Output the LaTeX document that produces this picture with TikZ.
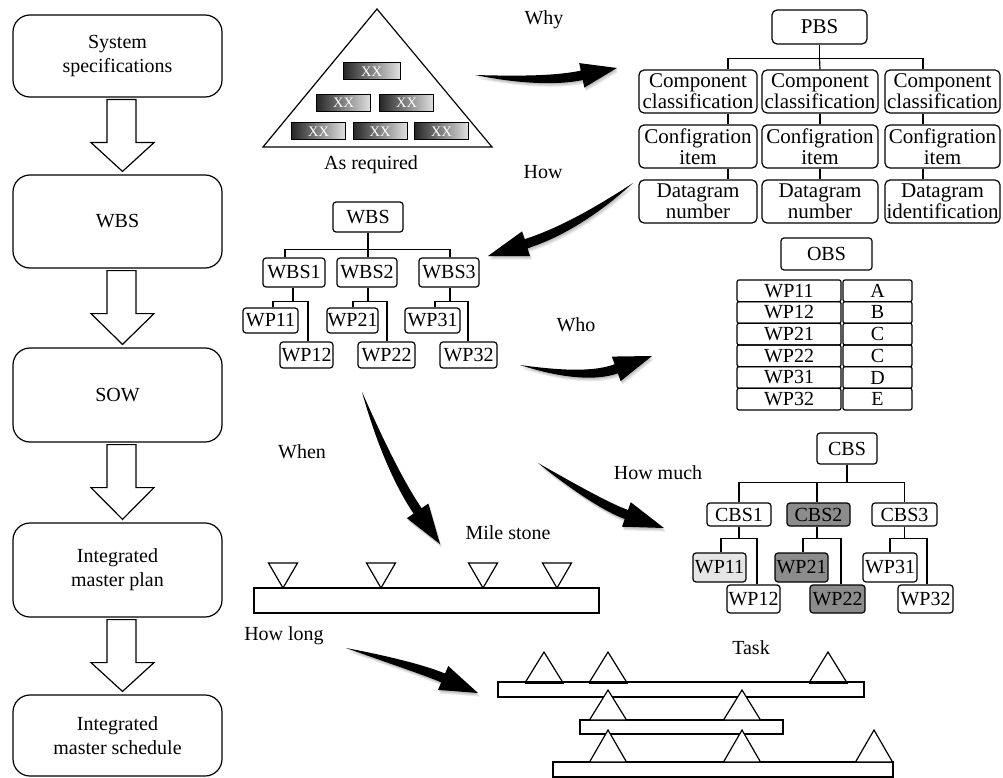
\documentclass[tikz,border=0pt]{standalone}
\usepackage{fontspec}
\setmainfont{Liberation Serif}
\usetikzlibrary{calc}

% thick tapered curved arrow: #1 prefix, #2 tail, #3 control, #4 tip, #5 head length, #6 head half width
\newcommand\bentarrow[6]{%
  \coordinate (#1t) at #2;
  \coordinate (#1c) at #3;
  \coordinate (#1p) at #4;
  \coordinate (#1b) at ($(#1p)!#5!(#1c)$);
  \coordinate (#1k1) at ($(#1t)!0.667!(#1c)$);
  \coordinate (#1k2) at ($(#1b)!0.667!(#1c)$);
  \coordinate (#1h1) at ($(#1b)!#6!90:(#1p)$);
  \coordinate (#1h2) at ($(#1b)!#6!-90:(#1p)$);
  \coordinate (#1s1) at ($(#1b)!4.8pt!90:(#1p)$);
  \coordinate (#1s2) at ($(#1b)!4.8pt!-90:(#1p)$);
  \coordinate (#1m1) at ($(#1k2)!4.8pt!90:(#1b)$);
  \coordinate (#1m2) at ($(#1k2)!4.8pt!-90:(#1b)$);
  \coordinate (#1n1) at ($(#1k1)!4pt!90:(#1k2)$);
  \coordinate (#1n2) at ($(#1k1)!4pt!-90:(#1k2)$);
  \foreach \dx/\dy in {0.6/-1.2,1.2/-2.4,1.8/-3.6}{%
    \fill[black,opacity=0.09,transform canvas={xshift=\dx pt,yshift=\dy pt}]
      (#1t) .. controls (#1n1) and (#1m1) .. (#1s1) -- (#1h1) -- (#1p) -- (#1h2) -- (#1s2)
      .. controls (#1m2) and (#1n2) .. (#1t) -- cycle;}
  \fill (#1t) .. controls (#1n1) and (#1m1) .. (#1s1) -- (#1h1) -- (#1p) -- (#1h2) -- (#1s2)
      .. controls (#1m2) and (#1n2) .. (#1t) -- cycle;
}

% hollow block arrow between two stacked boxes
\newcommand\blockdown[2]{%
  \draw[blk] ($(#1.south)+(-10.5,2)$) -- ($(#1.south)+(-10.5,45)$) -- ($(#1.south)+(-26.5,45)$)
    -- ($(#2.north)+(5,-3)$) -- ($(#1.south)+(36.5,45)$) -- ($(#1.south)+(18.5,45)$)
    -- ($(#1.south)+(18.5,2)$) -- cycle;}

\begin{document}
\begin{tikzpicture}[x=1pt,y=-1pt,
  lbox/.style={draw,line width=1.2pt,rounded corners=17pt,minimum width=209pt,align=center,
    inner sep=0pt,font=\fontsize{20}{24}\selectfont},
  pbox/.style={draw,line width=1.2pt,rounded corners=5pt,align=center,inner sep=0pt,
    font=\fontsize{21}{21}\selectfont},
  tbox/.style={draw,line width=1.2pt,rounded corners=3pt,inner sep=0pt,minimum height=26pt,
    font=\fontsize{20}{20}\selectfont},
  cell/.style={draw,line width=1.2pt,rounded corners=2pt,inner sep=0pt,minimum height=21.7pt,
    font=\fontsize{20}{20}\selectfont},
  xxbox/.style={draw,line width=1pt,left color=black!85,right color=black!12,minimum width=54pt,
    minimum height=17pt,inner sep=0pt,text=white,font=\fontsize{14.5}{14.5}\selectfont},
  lbl/.style={font=\fontsize{20}{20}\selectfont,inner sep=0pt},
  blk/.style={draw,line width=1.2pt,fill=white,line join=miter},
  tree/.style={line width=1.2pt},
  outl/.style={line width=1.2pt,line join=miter}]

\useasboundingbox (0,0) rectangle (1003,778);

% ---------- process column ----------
\node[lbox,minimum height=82pt] (s1) at (117.5,56) {System\\specifications};
\node[lbox,minimum height=93pt] (s2) at (117.5,221.5) {WBS};
\node[lbox,minimum height=94pt] (s3) at (117.5,395) {SOW};
\node[lbox,minimum height=94pt] (s4) at (117.5,570) {Integrated\\master plan};
\node[lbox,minimum height=81pt] (s5) at (117.5,735.5) {Integrated\\master schedule};
\blockdown{s1}{s2}
\blockdown{s2}{s3}
\blockdown{s3}{s4}
\blockdown{s4}{s5}

% ---------- requirement pyramid ----------
\draw[outl] (263,147) -- (377,9) -- (492,147) -- cycle;
\node[xxbox,minimum width=57pt] (x1) at (371.5,71.5) {XX};
\node[xxbox] (x2) at (343.5,103) {XX};
\node[xxbox] (x3) at (406.5,103) {XX};
\node[xxbox] (x4) at (318.5,131.5) {XX};
\node[xxbox] (x5) at (380,131.5) {XX};
\node[xxbox] (x6) at (441.5,131.5) {XX};
\node[lbl] (asreq) at (371,165) {As required};

% ---------- PBS ----------
\node[pbox,minimum width=95pt,minimum height=34pt] (pbs) at (819.5,27) {PBS};
\node[pbox,minimum width=118pt,minimum height=43pt] (c1) at (698,91.5) {Component\\classification};
\node[pbox,minimum width=116pt,minimum height=43pt] (c2) at (820,91.5) {Component\\classification};
\node[pbox,minimum width=115pt,minimum height=43pt] (c3) at (942.5,91.5) {Component\\classification};
\node[pbox,minimum width=118pt,minimum height=43pt] (f1) at (698,146.5) {Configration\\item};
\node[pbox,minimum width=116pt,minimum height=43pt] (f2) at (820,146.5) {Configration\\item};
\node[pbox,minimum width=115pt,minimum height=43pt] (f3) at (942.5,146.5) {Configration\\item};
\node[pbox,minimum width=118pt,minimum height=43pt] (d1) at (698,201.5) {Datagram\\number};
\node[pbox,minimum width=116pt,minimum height=43pt] (d2) at (820,201.5) {Datagram\\number};
\node[pbox,minimum width=115pt,minimum height=43pt] (d3) at (942.5,201.5) {Datagram\\identification};
\draw[tree] (pbs.south) -- ($(pbs.south)+(0,14)$) coordinate (pj);
\draw[tree] ($(c1.north)+(30,0)$) |- (pj) -| ($(c3.north)+(-19.5,0)$);
\draw[tree] (pj) -- (c2.north);
\draw[tree] ($(c1.south)+(30,0)$) -- ($(f1.north)+(30,0)$);
\draw[tree] (c2.south) -- (f2.north);
\draw[tree] ($(c3.south)+(-19.5,0)$) -- ($(f3.north)+(-19.5,0)$);
\draw[tree] ($(f1.south)+(30,0)$) -- ($(d1.north)+(30,0)$);
\draw[tree] (f2.south) -- (d2.north);
\draw[tree] ($(f3.south)+(-19.5,0)$) -- ($(d3.north)+(-19.5,0)$);

% ---------- WBS ----------
\node[tbox,minimum width=70pt,minimum height=30pt] (wbs) at (368,217) {WBS};
\node[tbox,minimum width=62pt,minimum height=29pt] (w1) at (294,272.5) {WBS1};
\node[tbox,minimum width=60pt,minimum height=29pt] (w2) at (367,272.5) {WBS2};
\node[tbox,minimum width=60pt,minimum height=29pt] (w3) at (449,272.5) {WBS3};
\node[tbox,minimum width=55pt,minimum height=25pt] (wp11) at (270.5,320.5) {WP11};
\node[tbox,minimum width=53pt] (wp12) at (306.5,355) {WP12};
\node[tbox,minimum width=51pt,minimum height=25pt] (wp21) at (352.5,320.5) {WP21};
\node[tbox,minimum width=57pt] (wp22) at (386.5,355) {WP22};
\node[tbox,minimum width=55pt,minimum height=25pt] (wp31) at (432.5,320.5) {WP31};
\node[tbox,minimum width=57pt] (wp32) at (468.5,355) {WP32};
\draw[tree] (wbs.south) -- ($(wbs.south)+(0,17)$) coordinate (wj);
\draw[tree] ($(w1.north)+(-9,0)$) |- (wj) -| ($(w3.north)+(1,0)$);
\draw[tree] (wj) -- ($(w2.north)+(1,0)$);
\draw[tree] ($(w1.south)+(-1,0)$) -- ($(w1.south)+(-1,14)$) coordinate (w1j);
\draw[tree] ($(wp11.north)+(2.5,0)$) |- (w1j) -| ($(wp12.north)+(1.5,0)$);
\draw[tree] ($(w2.south)+(1,0)$) -- ($(w2.south)+(1,14)$) coordinate (w2j);
\draw[tree] ($(wp21.north)+(0.5,0)$) |- (w2j) -| ($(wp22.north)+(0.5,0)$);
\draw[tree] ($(w3.south)+(1,0)$) -- ($(w3.south)+(1,14)$) coordinate (w3j);
\draw[tree] ($(wp31.north)+(2.5,0)$) |- (w3j) -| ($(wp32.north)+(-0.5,0)$);

% ---------- OBS ----------
\node[tbox,minimum width=91pt,minimum height=32pt] (obs) at (826.5,254) {OBS};
\foreach \w/\l [count=\i from 0] in {WP11/A,WP12/B,WP21/C,WP22/C,WP31/D,WP32/E}{
  \node[cell,minimum width=104pt] (ow\i) at (789,{290.8+21.67*\i}) {\w};
  \node[cell,minimum width=69pt] (ol\i) at (877.5,{290.8+21.67*\i}) {\l};
}

% ---------- CBS ----------
\node[tbox,minimum width=60pt,minimum height=31pt] (cbs) at (847,448.5) {CBS};
\node[tbox,minimum width=64pt,minimum height=23pt] (cb1) at (739,514.5) {CBS1};
\node[tbox,minimum width=63pt,minimum height=23pt,fill=black!45] (cb2) at (818.5,514.5) {CBS2};
\node[tbox,minimum width=65pt,minimum height=23pt] (cb3) at (904.5,514.5) {CBS3};
\node[tbox,minimum width=53pt,minimum height=29pt,fill=black!10] (cp11) at (719.5,567.5) {WP11};
\node[tbox,minimum width=53pt,minimum height=28pt] (cp12) at (753.5,599) {WP12};
\node[tbox,minimum width=53pt,minimum height=29pt,fill=black!45] (cp21) at (801.5,567.5) {WP21};
\node[tbox,minimum width=55pt,minimum height=28pt,fill=black!45] (cp22) at (837.5,599) {WP22};
\node[tbox,minimum width=54pt,minimum height=29pt] (cp31) at (890,567.5) {WP31};
\node[tbox,minimum width=55pt,minimum height=28pt] (cp32) at (925.5,599) {WP32};
\draw[tree] (cbs.south) -- ($(cbs.south)+(0,18)$) coordinate (cj);
\draw[tree] (cb1.north) |- (cj) -| (cb3.north);
\draw[tree] (cj) -| ($(cb2.north)+(-1.5,0)$);
\draw[tree] (cb1.south) -- ($(cb1.south)+(0,12)$) coordinate (c1j);
\draw[tree] ($(cp11.north)+(1.5,0)$) |- (c1j) -| ($(cp12.north)+(3.5,0)$);
\draw[tree] ($(cb2.south)+(-1.5,0)$) -- ($(cb2.south)+(-1.5,12)$) coordinate (c2j);
\draw[tree] ($(cp21.north)+(1.5,0)$) |- (c2j) -| ($(cp22.north)+(3.5,0)$);
\draw[tree] (cb3.south) -- ($(cb3.south)+(0,12)$) coordinate (c3j);
\draw[tree] (cp31.north) |- (c3j) -| ($(cp32.north)+(1.5,0)$);

% ---------- milestone bar ----------
\node[draw,line width=1.2pt,inner sep=0pt,minimum width=345pt,minimum height=25pt] (mbar) at (426.5,600.5) {};
\foreach \mx in {283,381,483,557}{
  \draw[outl] (\mx-14.5,563) -- (\mx+14.5,563) -- (\mx,588) -- cycle;}
\node[lbl] (mile) at (508,533) {Mile stone};

% ---------- task bars ----------
\node[draw,line width=1.2pt,inner sep=0pt,minimum width=366pt,minimum height=15pt] (bar1) at (681,689.5) {};
\node[draw,line width=1.2pt,inner sep=0pt,minimum width=203pt,minimum height=14pt] (bar2) at (681.5,727) {};
\node[draw,line width=1.2pt,inner sep=0pt,minimum width=340pt,minimum height=15pt] (bar3) at (723,769.5) {};
\foreach \tx in {544,608,828}{
  \draw[outl] (\tx-18.5,682) -- (\tx,652) -- (\tx+18.5,682);
  \draw[line width=3pt] (\tx-19.5,682) -- (\tx+19.5,682);}
\foreach \tx in {608,742}{
  \draw[outl,fill=white] (\tx-18.5,720) -- (\tx,690) -- (\tx+18.5,720) -- cycle;}
\foreach \tx in {608,742,874}{
  \draw[outl,fill=white] (\tx-18.5,762) -- (\tx,730) -- (\tx+18.5,762) -- cycle;}
\node[lbl] (task) at (751,648) {Task};

% ---------- question labels ----------
\node[lbl] (why) at (544,20) {Why};
\node[lbl] (how) at (543,172) {How};
\node[lbl] (who) at (576,325) {Who};
\node[lbl] (when) at (302,452) {When};
\node[lbl] (howmuch) at (658,473) {How much};
\node[lbl] (howlong) at (284,636) {How long};

% ---------- curved arrows ----------
\bentarrow{a}{(475,75)}{(545,83)}{(617,68)}{36pt}{12.5pt}
\bentarrow{b}{(633,183)}{(575,228)}{(488,256)}{40pt}{13pt}
\bentarrow{c}{(520,365)}{(585,380)}{(652,356)}{38pt}{13pt}
\bentarrow{d}{(362,392)}{(390,470)}{(440,544)}{40pt}{13pt}
\bentarrow{e}{(538,463)}{(600,505)}{(664,528)}{40pt}{13pt}
\bentarrow{f}{(346,648)}{(420,668)}{(478,693)}{38pt}{13pt}

\end{tikzpicture}
\end{document}
